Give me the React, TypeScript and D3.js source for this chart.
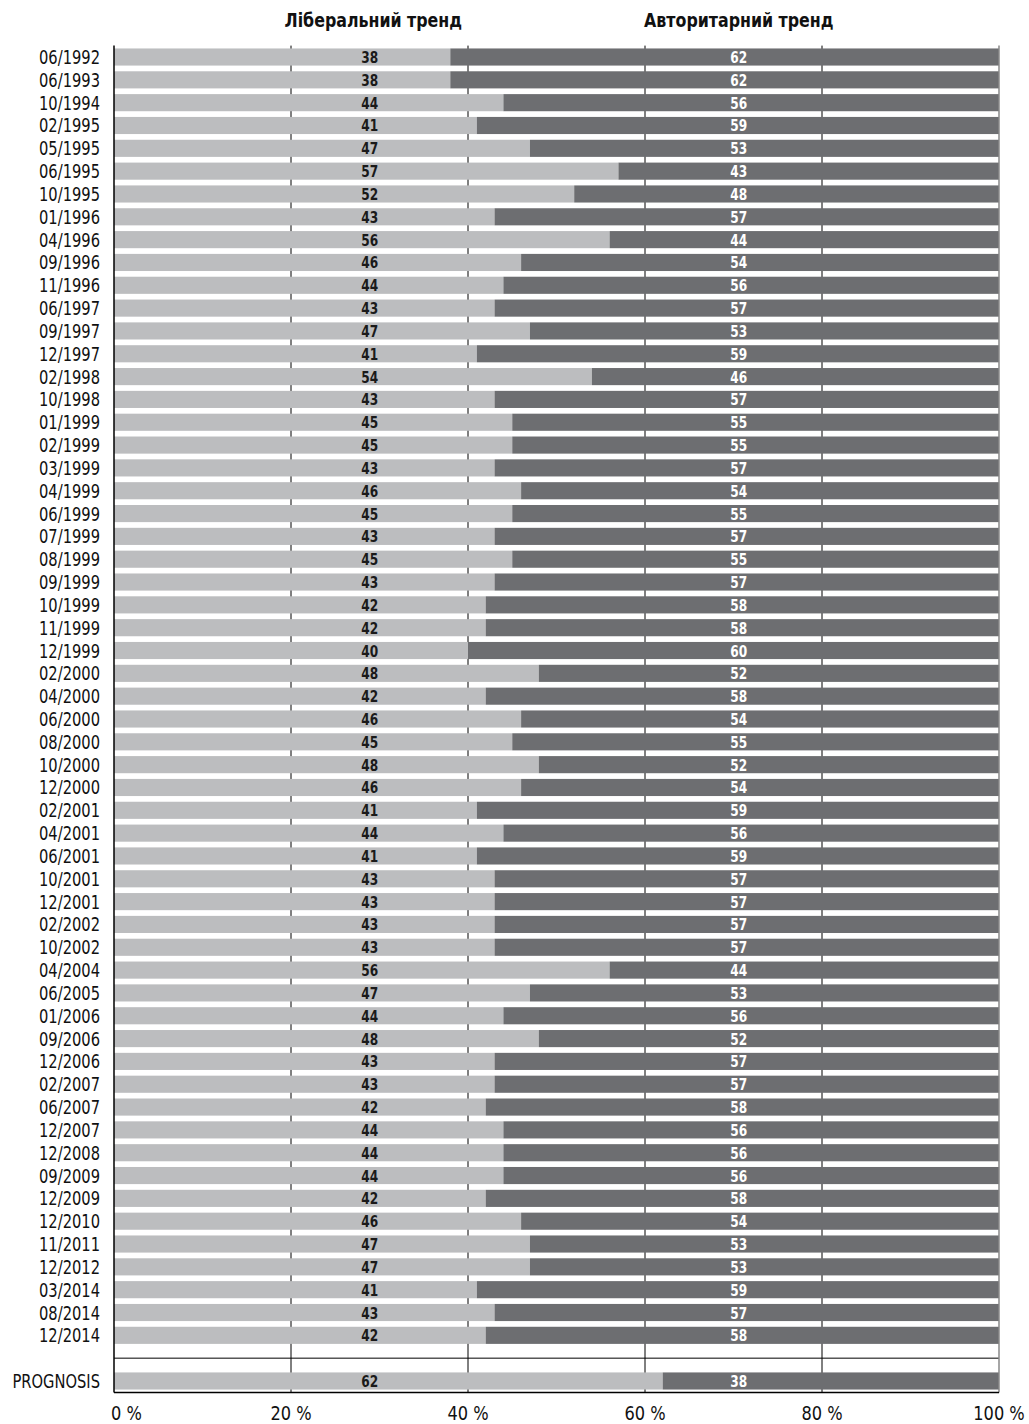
import React from "react";
import * as d3 from "d3";

const periods = [
  "06/1992", "06/1993", "10/1994", "02/1995", "05/1995", "06/1995", "10/1995", "01/1996",
  "04/1996", "09/1996", "11/1996", "06/1997", "09/1997", "12/1997", "02/1998", "10/1998",
  "01/1999", "02/1999", "03/1999", "04/1999", "06/1999", "07/1999", "08/1999", "09/1999",
  "10/1999", "11/1999", "12/1999", "02/2000", "04/2000", "06/2000", "08/2000", "10/2000",
  "12/2000", "02/2001", "04/2001", "06/2001", "10/2001", "12/2001", "02/2002", "10/2002",
  "04/2004", "06/2005", "01/2006", "09/2006", "12/2006", "02/2007", "06/2007", "12/2007",
  "12/2008", "09/2009", "12/2009", "12/2010", "11/2011", "12/2012", "03/2014", "08/2014",
  "12/2014",
];
const liberal = [
  38, 38, 44, 41, 47, 57, 52, 43, 56, 46, 44, 43, 47, 41, 54, 43,
  45, 45, 43, 46, 45, 43, 45, 43, 42, 42, 40, 48, 42, 46, 45, 48,
  46, 41, 44, 41, 43, 43, 43, 43, 56, 47, 44, 48, 43, 43, 42, 44,
  44, 44, 42, 46, 47, 47, 41, 43, 42,
];
const authoritarian = [
  62, 62, 56, 59, 53, 43, 48, 57, 44, 54, 56, 57, 53, 59, 46, 57,
  55, 55, 57, 54, 55, 57, 55, 57, 58, 58, 60, 52, 58, 54, 55, 52,
  54, 59, 56, 59, 57, 57, 57, 57, 44, 53, 56, 52, 57, 57, 58, 56,
  56, 56, 58, 54, 53, 53, 59, 57, 58,
];
const prognosisLabel = "PROGNOSIS";
const prognosisLiberal = 62;
const prognosisAuthoritarian = 38;
const ticks = [0, 20, 40, 60, 80, 100];
const headers = ["Ліберальний тренд", "Авторитарний тренд"];

const GAP = "__gap";
const FONT = "'DejaVu Sans Condensed', 'DejaVu Sans', sans-serif";
const LIGHT = "#bcbdbf";
const DARK = "#6d6e71";

// narrow text: the original uses a condensed face, so squeeze horizontally
function NText({ x, y, sx, anchor, size, weight, fill, children }: any) {
  return (
    <text
      transform={`translate(${x},${y}) scale(${sx},1)`}
      textAnchor={anchor}
      fontSize={size}
      fontWeight={weight}
      fill={fill}
    >
      {children}
    </text>
  );
}

export default function App() {
  const width = 1029;
  const height = 1424;

  const rows = periods.map((p, i) => ({ label: p, lib: liberal[i], aut: authoritarian[i] }));
  rows.push({ label: GAP, lib: 0, aut: 0 });
  rows.push({ label: prognosisLabel, lib: prognosisLiberal, aut: prognosisAuthoritarian });

  const x = d3.scaleLinear().domain([0, 100]).range([114, 999]);
  const y = d3
    .scaleBand()
    .domain(rows.map((r) => r.label))
    .range([45.6, 1392.4])
    .paddingInner(0.25)
    .paddingOuter(0.125);

  const top = y.range()[0];
  const bottom = y.range()[1];
  const bw = y.bandwidth();

  return (
    <svg width={width} height={height} style={{ position: "absolute", left: 0, top: 0 }} fontFamily={FONT}>
      {/* grid */}
      {ticks.slice(1, -1).map((t) => (
        <line key={t} x1={x(t)} x2={x(t)} y1={top} y2={bottom} stroke="#000" strokeWidth={1} />
      ))}
      <line x1={x(0)} x2={x(100)} y1={y(GAP)! + bw / 2} y2={y(GAP)! + bw / 2} stroke="#000" strokeWidth={1} />

      {/* headers */}
      <NText x={x(29.3)} y={27} sx={0.88} anchor="middle" size={20} weight="bold" fill="#111">{headers[0]}</NText>
      <NText x={x(70.6)} y={27} sx={0.88} anchor="middle" size={20} weight="bold" fill="#111">{headers[1]}</NText>

      {rows.filter((r) => r.label !== GAP).map((r) => {
        const yy = y(r.label)! + bw / 2;
        return (
          <g key={r.label}>
            <rect x={x(0)} y={y(r.label)} width={x(r.lib) - x(0)} height={bw} fill={LIGHT} />
            <rect x={x(r.lib)} y={y(r.label)} width={x(100) - x(r.lib)} height={bw} fill={DARK} />
            <NText x={x(0) - 14} y={yy + 7} sx={0.86} anchor="end" size={19} fill="#111">{r.label}</NText>
            <NText x={x(28.9)} y={yy + 6} sx={0.82} anchor="middle" size={16.5} weight="bold" fill="#1a1a1a">{r.lib}</NText>
            <NText x={x(70.6)} y={yy + 6} sx={0.82} anchor="middle" size={16.5} weight="bold" fill="#fff">{r.aut}</NText>
          </g>
        );
      })}

      {/* axes */}
      <line x1={x(0)} x2={x(0)} y1={top} y2={bottom} stroke="#000" strokeWidth={1.5} />
      <line x1={x(100)} x2={x(100)} y1={top} y2={bottom} stroke="#888" strokeWidth={1.5} />
      <line x1={x(0)} x2={x(100)} y1={bottom} y2={bottom} stroke="#000" strokeWidth={1.5} />

      {ticks.map((t, i) => (
        <NText key={t} x={i === 0 ? x(t) - 3 : x(t)} y={1420} sx={0.9} anchor={i === 0 ? "start" : "middle"} size={20} fill="#111">
          {t} %
        </NText>
      ))}
    </svg>
  );
}
